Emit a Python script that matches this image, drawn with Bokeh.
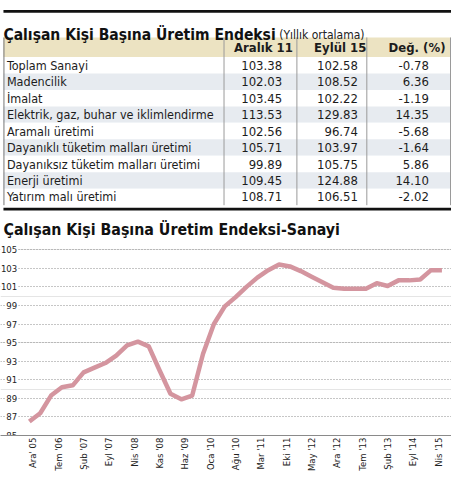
import math
from bokeh.plotting import figure
from bokeh.layouts import column
from bokeh.models import Range1d, FixedTicker, Grid
from bokeh.core.properties import value
from bokeh.embed import file_html
from bokeh.resources import INLINE

FONT = "'DejaVu Sans Condensed', Roboto, sans-serif"

# ---------------- data ----------------
title1 = "Çalışan Kişi Başına Üretim Endeksi"
subtitle1 = "(Yıllık ortalama)"
col_headers = ["Aralık 11", "Eylül 15", "Değ. (%)"]
row_names = [
    "Toplam Sanayi",
    "Madencilik",
    "İmalat",
    "Elektrik, gaz, buhar ve iklimlendirme",
    "Aramalı üretimi",
    "Dayanıklı tüketim malları üretimi",
    "Dayanıksız tüketim malları üretimi",
    "Enerji üretimi",
    "Yatırım malı üretimi",
]
aralik11 = [103.38, 102.03, 103.45, 113.53, 102.56, 105.71, 99.89, 109.45, 108.71]
eylul15 = [102.58, 108.52, 102.22, 129.83, 96.74, 103.97, 105.75, 124.88, 106.51]
degisim = [-0.78, 6.36, -1.19, 14.35, -5.68, -1.64, 5.86, 14.10, -2.02]

title2 = "Çalışan Kişi Başına Üretim Endeksi-Sanayi"
# quarterly observations, month offset from the first observation
obs_month = list(range(0, 115, 3))
obs_value = [86.5, 87.4, 89.3, 90.2, 90.4, 91.8, 92.3, 92.8, 93.6, 94.7,
             95.1, 94.6, 92.0, 89.5, 88.9, 89.3, 93.8, 97.0, 98.9, 99.9,
             101.0, 102.0, 102.8, 103.4, 103.2, 102.7, 102.1, 101.5, 100.9, 100.8,
             100.8, 100.8, 101.4, 101.1, 101.7, 101.7, 101.8, 102.8, 102.8]
tick_month = [1, 8, 15, 22, 29, 36, 43, 50, 57, 64, 71, 78, 85, 92, 99, 106, 113]
tick_label = ["Ara' 05", "Tem '06", "Şub '07", "Eyl '07", "Nis '08", "Kas '08",
              "Haz '09", "Oca '10", "Ağu '10", "Mar '11", "Eki '11", "May '12",
              "Ara '12", "Tem '13", "Şub '13", "Eyl '14", "Nis '15"]
y_ticks = [85, 87, 89, 91, 93, 95, 97, 99, 101, 103, 105]

W = 451
TEXT = "#1c1c1c"

# ---------------- table figure ----------------
top = figure(width=W, height=241, x_range=Range1d(0, 458), y_range=Range1d(246.5, 0),
             output_backend="svg", toolbar_location=None,
             x_axis_type=None, y_axis_type=None, min_border=0)
top.outline_line_color = None
top.grid.visible = False
top.background_fill_color = "white"
top.border_fill_color = "white"

row_top0 = 57.8
row_h = 16.84
n = len(row_names)
tops = [row_top0 + i * row_h for i in range(n)]
bots = [t + row_h for t in tops]
mids = [t + row_h / 2 for t in tops]
fills = ["white" if i % 2 == 0 else "#e7ebf0" for i in range(n)]

# black rules
top.quad(left=[3, 3], right=[458, 458], top=[9.8, 212.0], bottom=[12.6, 214.8],
         fill_color="#111111", line_color=None)
# header
top.quad(left=[3], right=[457], top=[37.8], bottom=[row_top0],
         fill_color="#ece3c2", line_color=None)
# rows
top.quad(left=[3] * n, right=[457] * n, top=tops, bottom=bots,
         fill_color=fills, line_color=None)
# column separators
sep_x = [3.5, 227, 301, 372, 457]
top.segment(x0=sep_x, x1=sep_x, y0=[37.8] * 5, y1=[bots[-1]] * 5,
            line_color=["#777777", "#9a9a9a", "#9a9a9a", "#9a9a9a", "#9a9a9a"],
            line_width=1)

# titles
top.text(x=[3], y=[35], text=[title1], text_font=value(FONT),
         text_font_style="bold", text_font_size="15.5px", text_color="#111111",
         text_baseline="alphabetic", text_align="left")
top.text(x=[283], y=[35], text=[subtitle1], text_font=value(FONT),
         text_font_size="12px", text_color="#222222",
         text_baseline="alphabetic", text_align="left")
top.text(x=[3], y=[234.5], text=[title2], text_font=value(FONT),
         text_font_style="bold", text_font_size="15.8px", text_color="#111111",
         text_baseline="alphabetic", text_align="left")

# header texts
top.text(x=[267, 345, 423], y=[48.3] * 3, text=col_headers, text_font=value(FONT),
         text_font_style="bold", text_font_size="13px", text_color=TEXT,
         text_baseline="middle", text_align="center")

# body
top.text(x=[6.5] * n, y=mids, text=row_names, text_font=value(FONT),
         text_font_size="12.5px", text_color=TEXT, text_baseline="middle", text_align="left")
for xr, vals in ((286, aralik11), (363, eylul15), (435, degisim)):
    top.text(x=[xr] * n, y=mids, text=[f"{v:.2f}" for v in vals], text_font=value(FONT),
             text_font_size="13px", text_color=TEXT, text_baseline="middle",
             text_align="right")

# ---------------- chart figure ----------------
ch = figure(width=W, height=233, x_range=Range1d(-7.97, 116.65), y_range=Range1d(85, 105.885),
            output_backend="svg", toolbar_location=None, y_axis_location=None,
            min_border_left=0, min_border_right=0, min_border_top=0, min_border_bottom=37)
ch.outline_line_color = None
ch.background_fill_color = "white"
ch.border_fill_color = "white"

ch.xaxis.ticker = FixedTicker(ticks=tick_month)
ch.xaxis.major_label_overrides = {m: lab for m, lab in zip(tick_month, tick_label)}
ch.xaxis.major_label_orientation = math.pi / 2
ch.xaxis.axis_line_color = "#8a8a8a"
ch.xaxis.axis_line_width = 1
ch.xaxis.major_tick_line_color = None
ch.xaxis.minor_tick_line_color = None
ch.xaxis.major_tick_out = 0
ch.xaxis.major_tick_in = 0
ch.xaxis.minor_tick_out = 0
ch.xaxis.axis_label_standoff = 0
ch.xaxis.major_label_standoff = 2
ch.xaxis.major_label_text_font = FONT
ch.xaxis.major_label_text_font_size = "9.5px"
ch.xaxis.major_label_text_color = "#222222"
ch.xgrid.grid_line_color = None

ch.add_layout(Grid(dimension=1, ticker=FixedTicker(ticks=y_ticks),
                   grid_line_color="#8c8c8c", grid_line_dash="1 2", grid_line_width=1))

# y tick labels sit at the left end of each grid line
ch.text(x=[-3.08] * len(y_ticks), y=y_ticks, text=[str(t) for t in y_ticks],
        text_font=value(FONT), text_font_size="9.5px", text_color="#222222",
        text_align="right", text_baseline="alphabetic",
        background_fill_color="white", padding=1)

ch.line(obs_month, obs_value, line_color="#d4959f", line_width=4.5,
        line_join="round", line_cap="butt")

# ---------------- bottom bar ----------------
bar = figure(width=W, height=4, x_range=Range1d(0, 458), y_range=Range1d(0, 4),
             output_backend="svg", toolbar_location=None,
             x_axis_type=None, y_axis_type=None, min_border=0)
bar.outline_line_color = None
bar.grid.visible = False
bar.quad(left=[3], right=[458], bottom=[0], top=[4], fill_color="#111111", line_color=None)

layout = column(top, ch, bar, spacing=0)
open("out.html", "w").write(file_html(layout, INLINE))
